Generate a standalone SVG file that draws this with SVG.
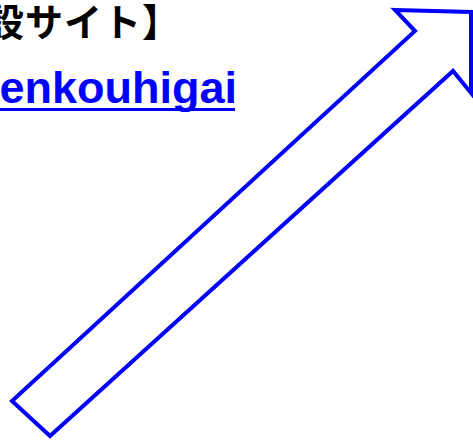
<svg xmlns="http://www.w3.org/2000/svg" width="473" height="442" viewBox="0 0 473 442">
<style>
.jp{font-family:"Noto Sans CJK JP","Liberation Sans",sans-serif;font-weight:bold;font-size:38px;letter-spacing:1px;fill:#000}
.link{font-family:"Liberation Sans",Arial,sans-serif;font-weight:bold;font-size:45px;fill:#0000FF}
.arrow{fill:#fff;stroke:#0000FF;stroke-width:4;stroke-linejoin:miter}
</style>
<rect width="473" height="442" fill="#fff"/>
<g id="title">
<text class="jp" x="-14" y="36">設サイト】</text>
</g>
<g id="link">
<text class="link" x="237" y="103" text-anchor="end">enkouhigai</text>
<rect x="0" y="108" width="235" height="3" fill="#0000FF"/>
</g>
<g id="arrow">
<polygon class="arrow" points="395,10 471,12 471,93 453,71 50,436 12,401 415,31"/>
</g>
</svg>
